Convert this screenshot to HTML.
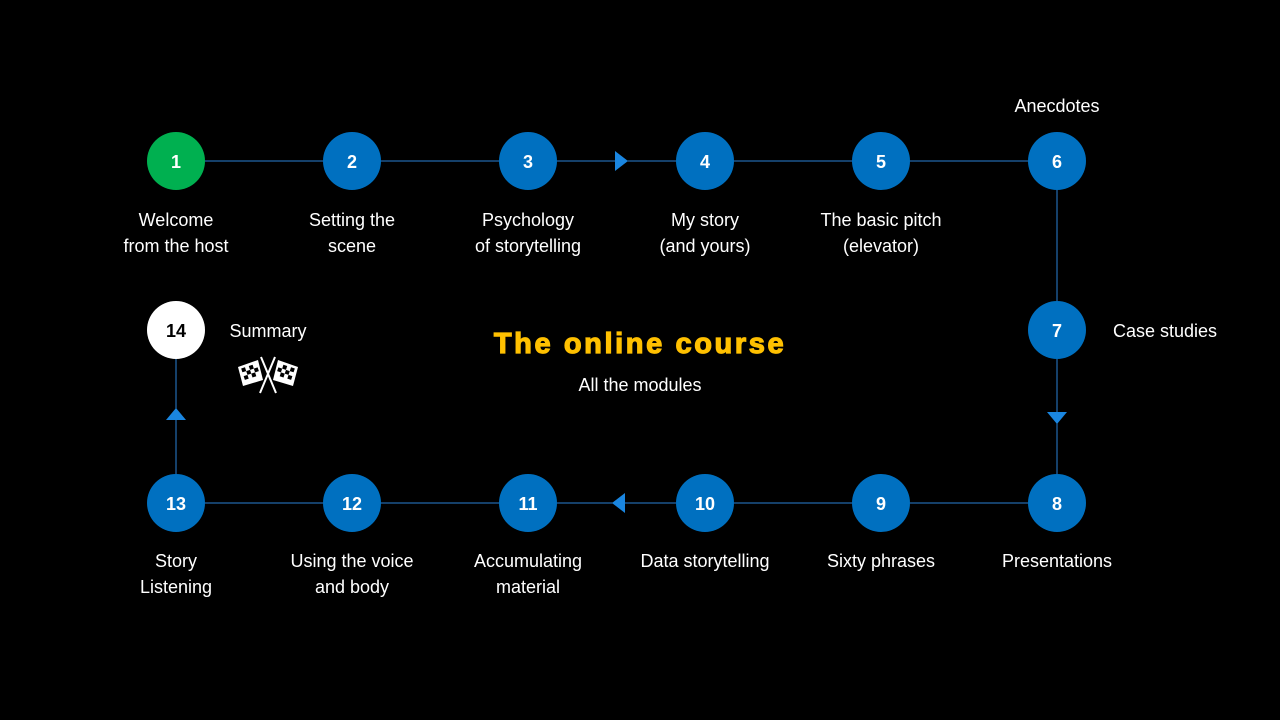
<!DOCTYPE html>
<html><head><meta charset="utf-8"><style>
html,body{margin:0;padding:0;background:#000;}
svg{display:block}
text{font-family:"Liberation Sans",Arial,sans-serif;}
</style></head><body>
<svg width="1280" height="720" viewBox="0 0 1280 720" xmlns="http://www.w3.org/2000/svg">
<rect width="1280" height="720" fill="#000"/>
<g stroke="#2a7fd4" stroke-width="1" fill="none">
<line x1="176" y1="161" x2="1057" y2="161"/>
<line x1="1057" y1="161" x2="1057" y2="503"/>
<line x1="176" y1="503" x2="1057" y2="503"/>
<line x1="176" y1="330" x2="176" y2="503"/>
</g>
<g fill="#1a86e0">
<polygon points="615,151 628,161 615,171"/>
<polygon points="1047,412 1067,412 1057,424"/>
<polygon points="625,493 612,503 625,513"/>
<polygon points="166,420 186,420 176,408"/>
</g>
<g font-size="18" font-weight="bold" text-anchor="middle" fill="#fff">
<circle cx="176" cy="161" r="29" fill="#00b050"/><text x="176" y="168">1</text>
<circle cx="352" cy="161" r="29" fill="#0070c0"/><text x="352" y="168">2</text>
<circle cx="528" cy="161" r="29" fill="#0070c0"/><text x="528" y="168">3</text>
<circle cx="705" cy="161" r="29" fill="#0070c0"/><text x="705" y="168">4</text>
<circle cx="881" cy="161" r="29" fill="#0070c0"/><text x="881" y="168">5</text>
<circle cx="1057" cy="161" r="29" fill="#0070c0"/><text x="1057" y="168">6</text>
<circle cx="1057" cy="330" r="29" fill="#0070c0"/><text x="1057" y="337">7</text>
<circle cx="1057" cy="503" r="29" fill="#0070c0"/><text x="1057" y="510">8</text>
<circle cx="881" cy="503" r="29" fill="#0070c0"/><text x="881" y="510">9</text>
<circle cx="705" cy="503" r="29" fill="#0070c0"/><text x="705" y="510">10</text>
<circle cx="528" cy="503" r="29" fill="#0070c0"/><text x="528" y="510">11</text>
<circle cx="352" cy="503" r="29" fill="#0070c0"/><text x="352" y="510">12</text>
<circle cx="176" cy="503" r="29" fill="#0070c0"/><text x="176" y="510">13</text>
<circle cx="176" cy="330" r="29" fill="#fff"/><text x="176" y="337" fill="#000">14</text>
</g>
<g font-size="18" text-anchor="middle" fill="#fff">
<text x="176" y="226">Welcome</text><text x="176" y="252">from the host</text>
<text x="352" y="226">Setting the</text><text x="352" y="252">scene</text>
<text x="528" y="226">Psychology</text><text x="528" y="252">of storytelling</text>
<text x="705" y="226">My story</text><text x="705" y="252">(and yours)</text>
<text x="881" y="226">The basic pitch</text><text x="881" y="252">(elevator)</text>
<text x="1057" y="112">Anecdotes</text>
<text x="1165" y="337">Case studies</text>
<text x="1057" y="567">Presentations</text>
<text x="881" y="567">Sixty phrases</text>
<text x="705" y="567">Data storytelling</text>
<text x="528" y="567">Accumulating</text><text x="528" y="593">material</text>
<text x="352" y="567">Using the voice</text><text x="352" y="593">and body</text>
<text x="176" y="567">Story</text><text x="176" y="593">Listening</text>
<text x="268" y="337">Summary</text>
<text x="640" y="391">All the modules</text>
</g>
<text x="640" y="353" text-anchor="middle" font-size="29" font-weight="bold" fill="#ffc000" stroke="#ffc000" stroke-width="1.2" letter-spacing="2.6">The online course</text>
<g stroke="#fff" stroke-width="2">
<line x1="260" y1="393" x2="275" y2="357"/>
<line x1="276" y1="393" x2="261" y2="357"/>
</g>
<g>
<polygon points="238,367 258,360 263,380 243,386" fill="#fff"/>
<polygon points="278,360 298,367 293,386 273,380" fill="#fff"/>
<g fill="#000">
<rect x="243" y="366" width="4" height="4" transform="rotate(-18 250 373)"/>
<rect x="251" y="366" width="4" height="4" transform="rotate(-18 250 373)"/>
<rect x="247" y="370" width="4" height="4" transform="rotate(-18 250 373)"/>
<rect x="255" y="370" width="4" height="4" transform="rotate(-18 250 373)"/>
<rect x="243" y="374" width="4" height="4" transform="rotate(-18 250 373)"/>
<rect x="251" y="374" width="4" height="4" transform="rotate(-18 250 373)"/>
<rect x="281" y="366" width="4" height="4" transform="rotate(18 286 373)"/>
<rect x="289" y="366" width="4" height="4" transform="rotate(18 286 373)"/>
<rect x="285" y="370" width="4" height="4" transform="rotate(18 286 373)"/>
<rect x="277" y="370" width="4" height="4" transform="rotate(18 286 373)"/>
<rect x="281" y="374" width="4" height="4" transform="rotate(18 286 373)"/>
<rect x="289" y="374" width="4" height="4" transform="rotate(18 286 373)"/>
</g>
</g>
</svg>
</body></html>
